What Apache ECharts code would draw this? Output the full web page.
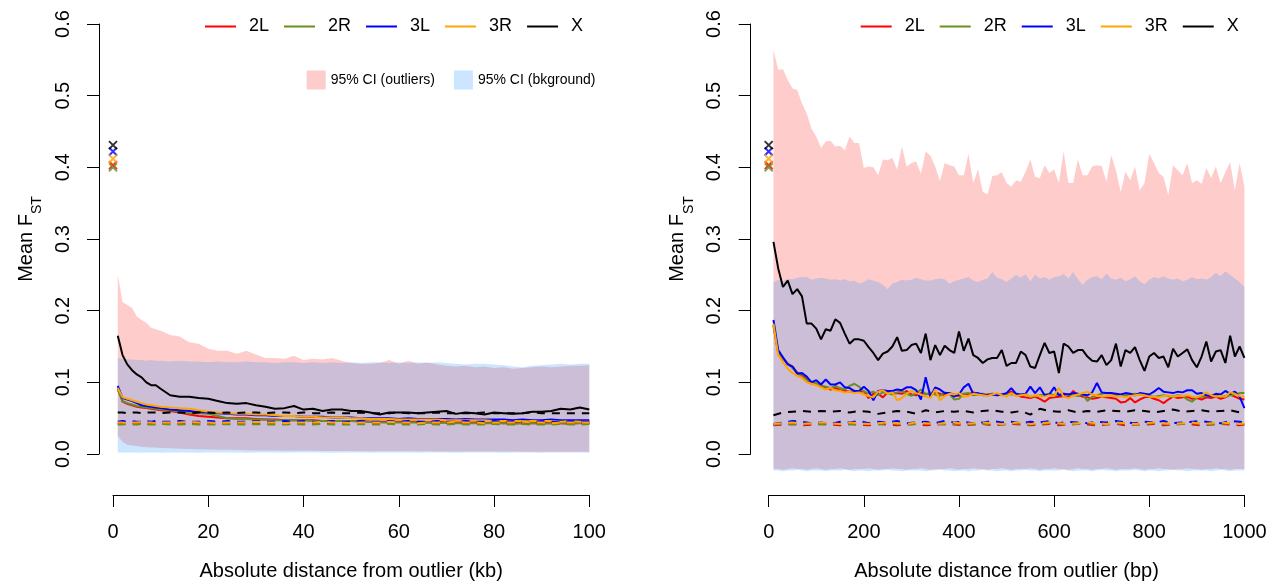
<!DOCTYPE html>
<html><head><meta charset="utf-8">
<script src="https://cdn.jsdelivr.net/npm/echarts@6/dist/echarts.min.js"></script>
<style>html,body{margin:0;padding:0;background:#fff}#c{width:1271px;height:581px}</style>
</head><body><div id="c"></div>
<script>
// ---------------- DATA ----------------
const chromosomes = ['2L','2R','3L','3R','X'];
const outlierFst = [0.403, 0.400, 0.422, 0.412, 0.431];   // crosses at distance 0 (same in both panels)

// Left panel: distance in kb
const kbX = [1,2,3,4,5,6,7,8,9,10,12,14,16,18,20,22,24,26,28,30,32,34,36,38,40,42,44,46,48,50,
  52,54,56,58,60,62,64,66,68,70,72,74,76,78,80,82,84,86,88,90,92,94,96,98,100];
const kbOutUpper = [0.250,0.212,0.208,0.204,0.192,0.187,0.183,0.176,0.174,0.172,
  0.166,0.164,0.156,0.154,0.147,0.144,0.144,0.140,0.144,0.139,
  0.134,0.134,0.133,0.137,0.131,0.133,0.132,0.134,0.130,0.127,
  0.126,0.126,0.127,0.131,0.126,0.130,0.126,0.128,0.125,0.123,
  0.122,0.123,0.121,0.122,0.120,0.121,0.119,0.120,0.121,0.122,
  0.121,0.122,0.123,0.123,0.124];
const kbOutLower = [0.025,0.017,0.013,0.012,0.011,0.010,0.0095,0.009,0.009,0.0085,
  0.008,0.0075,0.007,0.0065,0.0062,0.006,0.0058,0.0055,0.0053,0.005,
  0.005,0.0048,0.0046,0.0045,0.0045,0.0044,0.0043,0.0042,0.0042,0.0041,
  0.004,0.004,0.0039,0.0039,0.0038,0.0038,0.0037,0.0037,0.0036,0.0036,
  0.0036,0.0035,0.0035,0.0035,0.0034,0.0034,0.0034,0.0033,0.0033,0.0033,
  0.0033,0.0032,0.0032,0.0032,0.0032];
const kbBgUpper = [0.134,0.133,0.132,0.132,0.131,0.131,0.130,0.131,0.130,0.130,
  0.129,0.130,0.129,0.129,0.128,0.129,0.128,0.128,0.129,0.128,
  0.128,0.127,0.128,0.128,0.127,0.128,0.127,0.128,0.127,0.128,
  0.127,0.128,0.128,0.127,0.128,0.127,0.128,0.127,0.128,0.127,
  0.126,0.125,0.126,0.126,0.125,0.124,0.122,0.121,0.123,0.124,
  0.125,0.126,0.125,0.126,0.126];
const kbBgLower = [0.002,0.002,0.0022,0.0021,0.002,0.0019,0.002,0.0021,0.002,0.0019,
  0.002,0.0021,0.002,0.0019,0.002,0.0021,0.002,0.002,0.0019,0.002,
  0.0021,0.002,0.0019,0.002,0.0021,0.002,0.002,0.0019,0.002,0.0021,
  0.002,0.0019,0.002,0.0021,0.002,0.002,0.0019,0.002,0.0021,0.002,
  0.0019,0.002,0.0021,0.002,0.002,0.0019,0.002,0.0021,0.002,0.0019,
  0.002,0.0021,0.002,0.002,0.0019];
const kbSolid2L = [0.092,0.073,0.070,0.068,0.066,0.065,0.064,0.063,0.062,0.061,
  0.060,0.058,0.055,0.053,0.052,0.051,0.050,0.050,0.050,0.049,
  0.048,0.048,0.047,0.047,0.047,0.047,0.046,0.046,0.046,0.046,
  0.046,0.045,0.045,0.045,0.045,0.045,0.045,0.044,0.045,0.044,
  0.044,0.044,0.044,0.043,0.044,0.043,0.044,0.043,0.043,0.044,
  0.043,0.043,0.043,0.044,0.043];
const kbSolid2R = [0.090,0.074,0.071,0.069,0.067,0.066,0.065,0.064,0.063,0.062,
  0.061,0.059,0.057,0.057,0.056,0.053,0.050,0.049,0.049,0.048,
  0.048,0.047,0.047,0.047,0.047,0.046,0.046,0.046,0.046,0.046,
  0.045,0.045,0.044,0.044,0.044,0.044,0.044,0.044,0.043,0.044,
  0.043,0.043,0.043,0.043,0.043,0.043,0.042,0.043,0.043,0.042,
  0.043,0.043,0.042,0.043,0.043];
const kbSolid3L = [0.095,0.078,0.076,0.074,0.071,0.068,0.067,0.066,0.065,0.064,
  0.062,0.061,0.060,0.059,0.058,0.057,0.056,0.055,0.055,0.054,
  0.054,0.053,0.053,0.053,0.052,0.052,0.052,0.051,0.051,0.051,
  0.050,0.050,0.050,0.050,0.049,0.050,0.049,0.049,0.049,0.049,
  0.048,0.049,0.048,0.048,0.048,0.048,0.047,0.048,0.047,0.047,
  0.048,0.047,0.047,0.047,0.047];
const kbSolid3R = [0.092,0.079,0.077,0.075,0.073,0.071,0.069,0.068,0.067,0.066,
  0.065,0.064,0.063,0.061,0.059,0.058,0.057,0.056,0.056,0.055,
  0.055,0.054,0.053,0.053,0.052,0.052,0.051,0.051,0.051,0.050,
  0.050,0.049,0.049,0.049,0.048,0.048,0.048,0.048,0.048,0.047,
  0.047,0.047,0.047,0.047,0.046,0.046,0.046,0.046,0.046,0.046,
  0.046,0.045,0.046,0.045,0.045];
const kbSolidX = [0.165,0.138,0.125,0.117,0.111,0.107,0.100,0.096,0.096,0.091,
  0.082,0.080,0.080,0.078,0.077,0.074,0.071,0.070,0.071,0.068,
  0.066,0.063,0.064,0.067,0.062,0.063,0.060,0.062,0.062,0.060,
  0.060,0.058,0.055,0.058,0.058,0.058,0.057,0.058,0.059,0.060,
  0.056,0.058,0.057,0.055,0.058,0.057,0.056,0.057,0.059,0.059,
  0.060,0.063,0.062,0.065,0.062];
const kbDash2L = [0.042,0.043,0.042,0.043,0.042,0.043,0.042,0.042,0.043,0.042,
  0.043,0.042,0.042,0.043,0.042,0.043,0.042,0.042,0.043,0.042,
  0.042,0.043,0.042,0.042,0.043,0.042,0.042,0.043,0.042,0.042,
  0.043,0.042,0.042,0.043,0.042,0.042,0.043,0.042,0.042,0.043,
  0.042,0.042,0.043,0.042,0.042,0.043,0.042,0.042,0.043,0.042,
  0.042,0.043,0.042,0.042,0.043];
const kbDash2R = [0.041,0.041,0.042,0.041,0.041,0.042,0.041,0.041,0.041,0.042,
  0.041,0.041,0.042,0.041,0.041,0.041,0.042,0.041,0.041,0.042,
  0.041,0.041,0.041,0.042,0.041,0.041,0.042,0.041,0.041,0.041,
  0.042,0.041,0.041,0.042,0.041,0.041,0.041,0.042,0.041,0.041,
  0.042,0.041,0.041,0.041,0.042,0.041,0.041,0.042,0.041,0.041,
  0.041,0.042,0.041,0.041,0.042];
const kbDash3L = [0.045,0.046,0.045,0.046,0.045,0.045,0.046,0.045,0.046,0.045,
  0.045,0.046,0.045,0.045,0.046,0.045,0.046,0.045,0.045,0.046,
  0.045,0.045,0.046,0.045,0.046,0.045,0.045,0.046,0.045,0.045,
  0.046,0.045,0.045,0.046,0.045,0.046,0.045,0.045,0.046,0.045,
  0.045,0.046,0.045,0.045,0.046,0.045,0.046,0.045,0.045,0.046,
  0.045,0.045,0.046,0.045,0.045];
const kbDash3R = [0.044,0.044,0.043,0.044,0.044,0.045,0.044,0.044,0.043,0.044,
  0.044,0.044,0.045,0.044,0.044,0.043,0.044,0.044,0.044,0.045,
  0.044,0.044,0.043,0.044,0.044,0.044,0.045,0.044,0.044,0.043,
  0.044,0.044,0.044,0.045,0.044,0.044,0.043,0.044,0.044,0.044,
  0.045,0.044,0.044,0.043,0.044,0.044,0.044,0.045,0.044,0.044,
  0.043,0.044,0.044,0.044,0.044];
const kbDashX = [0.058,0.058,0.057,0.058,0.058,0.057,0.058,0.058,0.058,0.057,
  0.058,0.058,0.057,0.058,0.058,0.057,0.058,0.057,0.058,0.058,
  0.057,0.058,0.058,0.057,0.058,0.057,0.057,0.058,0.057,0.057,
  0.058,0.057,0.057,0.057,0.058,0.057,0.057,0.057,0.058,0.057,
  0.057,0.057,0.057,0.058,0.057,0.057,0.057,0.057,0.058,0.057,
  0.057,0.057,0.057,0.057,0.057];

// Right panel: distance in bp
const bpX = [10,20,30,40,50,60,70,80,90,100,110,120,130,140,150,160,170,180,190,200,
  210,220,230,240,250,260,270,280,290,300,310,320,330,340,350,360,370,380,390,400,
  410,420,430,440,450,460,470,480,490,500,510,520,530,540,550,560,570,580,590,600,
  610,620,630,640,650,660,670,680,690,700,710,720,730,740,750,760,770,780,790,800,
  810,820,830,840,850,860,870,880,890,900,910,920,930,940,950,960,970,980,990,1000];
const bpOutUpper = [0.564,0.536,0.537,0.522,0.510,0.508,0.489,0.475,0.454,0.443,
  0.427,0.436,0.437,0.429,0.430,0.424,0.443,0.434,0.434,0.399,
  0.401,0.400,0.389,0.411,0.410,0.413,0.397,0.429,0.401,0.406,
  0.408,0.391,0.422,0.416,0.401,0.381,0.406,0.403,0.401,0.389,
  0.389,0.419,0.378,0.397,0.366,0.362,0.388,0.389,0.393,0.378,
  0.373,0.382,0.380,0.394,0.411,0.387,0.385,0.403,0.392,0.397,
  0.378,0.422,0.378,0.378,0.411,0.389,0.389,0.401,0.403,0.402,
  0.380,0.417,0.396,0.366,0.394,0.382,0.401,0.368,0.378,0.419,
  0.406,0.392,0.387,0.361,0.403,0.396,0.389,0.406,0.378,0.382,
  0.377,0.399,0.385,0.401,0.378,0.393,0.407,0.368,0.406,0.373];
const bpOutLower = [-0.021,-0.021,-0.022,-0.021,-0.020,-0.021,-0.021,-0.022,-0.021,-0.020,
  -0.021,-0.022,-0.021,-0.021,-0.020,-0.021,-0.022,-0.021,-0.021,-0.021,
  -0.020,-0.021,-0.022,-0.021,-0.021,-0.020,-0.021,-0.021,-0.022,-0.021,
  -0.021,-0.020,-0.021,-0.022,-0.021,-0.021,-0.021,-0.020,-0.021,-0.022,
  -0.021,-0.021,-0.020,-0.021,-0.021,-0.022,-0.021,-0.021,-0.020,-0.021,
  -0.022,-0.021,-0.021,-0.021,-0.020,-0.021,-0.022,-0.021,-0.021,-0.020,
  -0.021,-0.021,-0.022,-0.021,-0.020,-0.021,-0.021,-0.022,-0.021,-0.021,
  -0.020,-0.021,-0.022,-0.021,-0.021,-0.021,-0.020,-0.021,-0.022,-0.021,
  -0.021,-0.020,-0.021,-0.021,-0.022,-0.021,-0.021,-0.020,-0.021,-0.021,
  -0.022,-0.021,-0.021,-0.020,-0.021,-0.021,-0.022,-0.021,-0.021,-0.021];
const bpBgUpper = [0.240,0.243,0.241,0.245,0.244,0.246,0.247,0.247,0.243,0.245,
  0.246,0.245,0.243,0.244,0.242,0.244,0.241,0.242,0.238,0.240,
  0.244,0.242,0.240,0.236,0.230,0.238,0.240,0.243,0.242,0.243,
  0.246,0.244,0.242,0.242,0.244,0.245,0.244,0.238,0.241,0.243,
  0.245,0.247,0.242,0.240,0.243,0.245,0.254,0.246,0.244,0.240,
  0.245,0.250,0.246,0.251,0.241,0.250,0.245,0.247,0.243,0.247,
  0.248,0.251,0.245,0.254,0.244,0.236,0.243,0.247,0.248,0.244,
  0.252,0.245,0.243,0.246,0.241,0.244,0.248,0.241,0.237,0.243,
  0.247,0.245,0.248,0.245,0.243,0.245,0.241,0.243,0.247,0.244,
  0.245,0.243,0.247,0.253,0.248,0.255,0.250,0.245,0.240,0.233];
const bpBgLower = [-0.023,-0.023,-0.024,-0.023,-0.023,-0.022,-0.023,-0.024,-0.023,-0.023,
  -0.023,-0.024,-0.023,-0.023,-0.023,-0.022,-0.023,-0.024,-0.023,-0.023,
  -0.024,-0.023,-0.023,-0.023,-0.022,-0.023,-0.023,-0.024,-0.023,-0.023,
  -0.023,-0.023,-0.024,-0.023,-0.023,-0.022,-0.023,-0.023,-0.024,-0.023,
  -0.023,-0.024,-0.023,-0.023,-0.022,-0.023,-0.023,-0.024,-0.023,-0.023,
  -0.024,-0.023,-0.023,-0.022,-0.023,-0.023,-0.024,-0.023,-0.023,-0.023,
  -0.023,-0.022,-0.023,-0.024,-0.023,-0.023,-0.023,-0.024,-0.023,-0.022,
  -0.023,-0.023,-0.024,-0.023,-0.023,-0.023,-0.022,-0.023,-0.024,-0.023,
  -0.023,-0.024,-0.023,-0.023,-0.022,-0.023,-0.023,-0.024,-0.023,-0.023,
  -0.023,-0.023,-0.024,-0.023,-0.022,-0.023,-0.024,-0.023,-0.023,-0.023];
const bpSolid2L = [0.180,0.142,0.133,0.126,0.122,0.114,0.110,0.104,0.098,0.097,
  0.094,0.093,0.090,0.092,0.089,0.088,0.087,0.088,0.086,0.088,
  0.078,0.084,0.084,0.079,0.086,0.084,0.085,0.084,0.088,0.083,
  0.082,0.085,0.084,0.083,0.086,0.084,0.082,0.085,0.083,0.081,
  0.084,0.083,0.086,0.084,0.082,0.083,0.084,0.082,0.083,0.084,
  0.087,0.083,0.080,0.079,0.078,0.080,0.077,0.073,0.078,0.079,
  0.080,0.081,0.079,0.088,0.082,0.080,0.079,0.077,0.078,0.080,
  0.079,0.078,0.077,0.072,0.073,0.078,0.072,0.076,0.079,0.080,
  0.077,0.075,0.071,0.076,0.080,0.078,0.079,0.080,0.077,0.078,
  0.076,0.079,0.078,0.080,0.077,0.079,0.083,0.080,0.077,0.076];
const bpSolid2R = [0.178,0.141,0.134,0.126,0.120,0.113,0.108,0.103,0.101,0.099,
  0.096,0.094,0.092,0.095,0.092,0.090,0.095,0.098,0.094,0.087,
  0.085,0.087,0.082,0.086,0.085,0.083,0.086,0.088,0.084,0.081,
  0.085,0.090,0.083,0.086,0.083,0.081,0.086,0.084,0.076,0.077,
  0.084,0.085,0.082,0.083,0.084,0.082,0.084,0.083,0.082,0.084,
  0.083,0.084,0.082,0.083,0.080,0.081,0.082,0.083,0.084,0.082,
  0.083,0.084,0.083,0.082,0.081,0.083,0.074,0.080,0.082,0.084,
  0.085,0.084,0.083,0.081,0.082,0.083,0.084,0.083,0.082,0.081,
  0.080,0.081,0.082,0.081,0.080,0.082,0.081,0.076,0.073,0.079,
  0.080,0.081,0.081,0.082,0.080,0.081,0.082,0.083,0.085,0.085];
const bpSolid3L = [0.187,0.145,0.135,0.125,0.122,0.112,0.113,0.108,0.100,0.103,
  0.097,0.104,0.097,0.097,0.100,0.093,0.092,0.088,0.088,0.094,
  0.088,0.075,0.088,0.089,0.088,0.088,0.090,0.089,0.093,0.093,
  0.089,0.076,0.107,0.080,0.093,0.090,0.085,0.085,0.080,0.083,
  0.093,0.098,0.084,0.085,0.083,0.082,0.083,0.082,0.083,0.085,
  0.092,0.084,0.083,0.084,0.094,0.085,0.093,0.082,0.083,0.093,
  0.082,0.084,0.083,0.085,0.084,0.083,0.082,0.086,0.099,0.086,
  0.085,0.085,0.084,0.083,0.085,0.084,0.082,0.085,0.084,0.083,
  0.087,0.092,0.087,0.086,0.085,0.087,0.086,0.089,0.089,0.084,
  0.085,0.082,0.081,0.084,0.083,0.088,0.084,0.087,0.080,0.064];
const bpSolid3R = [0.182,0.138,0.128,0.119,0.113,0.109,0.106,0.100,0.098,0.096,
  0.093,0.090,0.092,0.089,0.088,0.086,0.087,0.085,0.086,0.083,
  0.081,0.079,0.087,0.089,0.084,0.086,0.075,0.078,0.084,0.088,
  0.085,0.083,0.080,0.078,0.090,0.075,0.081,0.084,0.083,0.085,
  0.080,0.081,0.084,0.083,0.082,0.081,0.083,0.085,0.082,0.080,
  0.085,0.081,0.082,0.083,0.080,0.082,0.081,0.080,0.082,0.081,
  0.092,0.080,0.078,0.081,0.083,0.085,0.087,0.083,0.082,0.080,
  0.081,0.082,0.080,0.081,0.079,0.081,0.082,0.083,0.082,0.080,
  0.080,0.079,0.081,0.082,0.080,0.081,0.081,0.082,0.080,0.079,
  0.082,0.086,0.082,0.080,0.081,0.080,0.086,0.084,0.081,0.080];
const bpSolidX = [0.296,0.259,0.233,0.242,0.223,0.230,0.220,0.182,0.182,0.175,
  0.160,0.174,0.172,0.188,0.183,0.168,0.154,0.160,0.160,0.158,
  0.149,0.141,0.131,0.140,0.143,0.150,0.163,0.144,0.145,0.152,
  0.154,0.141,0.168,0.131,0.152,0.138,0.151,0.145,0.141,0.171,
  0.144,0.161,0.138,0.134,0.127,0.132,0.134,0.134,0.145,0.123,
  0.127,0.127,0.143,0.138,0.122,0.120,0.138,0.155,0.141,0.143,
  0.113,0.154,0.150,0.141,0.145,0.145,0.136,0.130,0.129,0.138,
  0.124,0.131,0.154,0.122,0.145,0.141,0.149,0.131,0.116,0.136,
  0.141,0.134,0.136,0.121,0.147,0.136,0.141,0.146,0.131,0.121,
  0.136,0.157,0.129,0.143,0.145,0.127,0.165,0.136,0.150,0.134];
const bpDashXs = [10,30,50,70,90,110,130,150,170,190,210,230,250,270,290,310,330,350,370,390,
  410,430,450,470,490,510,530,550,570,590,610,630,650,670,690,710,730,750,770,790,
  810,830,850,870,890,910,930,950,970,990,1000];
const bpDashX = [0.054,0.058,0.059,0.060,0.059,0.060,0.059,0.060,0.058,0.060,
  0.059,0.056,0.058,0.060,0.059,0.056,0.061,0.058,0.060,0.059,
  0.060,0.058,0.060,0.061,0.059,0.058,0.060,0.055,0.063,0.060,
  0.059,0.061,0.058,0.060,0.059,0.061,0.060,0.059,0.061,0.060,
  0.058,0.060,0.062,0.059,0.060,0.061,0.059,0.060,0.061,0.058,0.057];
const bpDash3L = [0.042,0.044,0.046,0.045,0.043,0.044,0.042,0.045,0.044,0.046,
  0.043,0.045,0.044,0.046,0.043,0.044,0.045,0.043,0.046,0.044,
  0.045,0.043,0.044,0.046,0.044,0.045,0.043,0.045,0.044,0.046,
  0.043,0.045,0.044,0.043,0.045,0.044,0.046,0.044,0.043,0.045,
  0.044,0.046,0.043,0.044,0.045,0.046,0.044,0.043,0.046,0.045,0.044];
const bpDash2L = [0.040,0.041,0.042,0.040,0.041,0.042,0.041,0.040,0.042,0.041,
  0.040,0.042,0.041,0.040,0.041,0.042,0.040,0.041,0.042,0.041,
  0.040,0.041,0.042,0.040,0.041,0.042,0.041,0.040,0.041,0.042,
  0.040,0.041,0.042,0.041,0.040,0.041,0.042,0.040,0.041,0.041,
  0.042,0.040,0.041,0.042,0.041,0.040,0.041,0.042,0.041,0.040,0.041];
const bpDash2R = [0.041,0.042,0.041,0.043,0.042,0.041,0.042,0.043,0.041,0.042,
  0.042,0.041,0.043,0.042,0.041,0.042,0.043,0.042,0.041,0.042,
  0.043,0.041,0.042,0.042,0.041,0.043,0.042,0.041,0.042,0.043,
  0.042,0.041,0.042,0.043,0.041,0.042,0.042,0.043,0.041,0.042,
  0.043,0.042,0.041,0.042,0.043,0.042,0.041,0.042,0.043,0.042,0.041];
const bpDash3R = [0.042,0.043,0.044,0.042,0.043,0.044,0.043,0.042,0.044,0.043,
  0.042,0.043,0.044,0.043,0.042,0.044,0.043,0.042,0.043,0.044,
  0.042,0.043,0.044,0.043,0.042,0.043,0.044,0.042,0.043,0.044,
  0.043,0.042,0.043,0.044,0.043,0.042,0.044,0.043,0.042,0.043,
  0.044,0.043,0.042,0.043,0.044,0.042,0.043,0.044,0.043,0.042,0.043];

const kbTicks = [0, 20, 40, 60, 80, 100];
const bpTicks = [0, 200, 400, 600, 800, 1000];
const yTicks = [0.0, 0.1, 0.2, 0.3, 0.4, 0.5, 0.6];

// ---------------- STYLE ----------------
const FONT = '"Liberation Sans", Arial, Helvetica, sans-serif';
const COL = {'2L': '#FF0000', '2R': '#6B8E23', '3L': '#0000FF', '3R': '#FFA500', 'X': '#000000'};
const PINK = 'rgba(255,0,0,0.2)';
const BLUE = 'rgba(0,128,255,0.2)';
const OUT_NAME = '95% CI (outliers)', BG_NAME = '95% CI (bkground)';
const PANELS = [
  {left: 113, width: 476.3, yOffset: 14, title: 'Absolute distance from outlier (kb)', ticks: kbTicks},
  {left: 768.7, width: 475.7, yOffset: 18, title: 'Absolute distance from outlier (bp)', ticks: bpTicks}
];
const TOP = 24, H = 430;            // pixel span of 0.0–0.6
const DATA_MIN = -0.1;              // data grid extends below 0 (hidden axis)

const pts = (xs, ys) => xs.map((x, i) => [x, ys[i]]);

function lineS(name, xs, ys, ax, dashed) {
  return {type: 'line', name, xAxisIndex: ax, yAxisIndex: ax, data: pts(xs, ys),
    symbol: 'none', showSymbol: false, silent: true, animation: false,
    lineStyle: {color: COL[name], width: 2, type: dashed ? [8, 7] : 'solid'},
    itemStyle: {color: COL[name]}};
}
function band(name, xs, lo, hi, ax, color) {
  return {type: 'custom', name, xAxisIndex: ax, yAxisIndex: ax, silent: true, animation: false,
    itemStyle: {color},
    data: xs.map((x, i) => [x, lo[i], hi[i]]),
    encode: {x: 0, y: [1, 2]},
    renderItem: (params, api) => {
      if (params.dataIndex !== 0) return null;
      const upper = xs.map((x, i) => api.coord([x, hi[i]]));
      const lower = xs.map((x, i) => api.coord([x, lo[i]])).reverse();
      return {type: 'polygon', shape: {points: upper.concat(lower)}, style: {fill: color}, silent: true};
    }};
}
function crosses(ax) {
  return chromosomes.map((c, i) => ({type: 'scatter', name: c, xAxisIndex: ax, yAxisIndex: ax,
    data: [[0, outlierFst[i]]], clip: false, silent: true, animation: false,
    symbol: 'path://M0,0L10,10M10,0L0,10', symbolSize: 8, symbolKeepAspect: true,
    itemStyle: {color: COL[c], borderColor: COL[c], borderWidth: 2}}));
}

const kbSolid = {'2L': kbSolid2L, '2R': kbSolid2R, '3L': kbSolid3L, '3R': kbSolid3R, 'X': kbSolidX};
const kbDash = {'2L': kbDash2L, '2R': kbDash2R, '3L': kbDash3L, '3R': kbDash3R, 'X': kbDashX};
const bpSolid = {'2L': bpSolid2L, '2R': bpSolid2R, '3L': bpSolid3L, '3R': bpSolid3R, 'X': bpSolidX};
const bpDash = {'2L': bpDash2L, '2R': bpDash2R, '3L': bpDash3L, '3R': bpDash3R, 'X': bpDashX};

let series = [];
chromosomes.forEach(c => series.push(lineS(c, kbX, kbSolid[c], 0, false)));
chromosomes.forEach(c => series.push(lineS(c, bpX, bpSolid[c], 2, false)));
chromosomes.forEach(c => series.push(lineS(c, kbX, kbDash[c], 0, true)));
chromosomes.forEach(c => series.push(lineS(c, bpDashXs, bpDash[c], 2, true)));
series.push(band(OUT_NAME, kbX, kbOutLower, kbOutUpper, 0, PINK));
series.push(band(BG_NAME, kbX, kbBgLower, kbBgUpper, 0, BLUE));
series.push(band(OUT_NAME, bpX, bpOutLower, bpOutUpper, 2, PINK));
series.push(band(BG_NAME, bpX, bpBgLower, bpBgUpper, 2, BLUE));
series = series.concat(crosses(0), crosses(2));

const grids = [], xAxes = [], yAxes = [];
PANELS.forEach((p, k) => {
  const xmax = p.ticks[p.ticks.length - 1];
  grids.push({left: p.left, top: TOP, width: p.width, height: H * (0.6 - DATA_MIN) / 0.6,
    containLabel: false, outerBoundsMode: 'none'});
  xAxes.push({gridIndex: 2 * k, type: 'value', min: 0, max: xmax, show: false});
  yAxes.push({gridIndex: 2 * k, type: 'value', min: DATA_MIN, max: 0.6, show: false});
  grids.push({left: p.left, top: TOP, width: p.width, height: H,
    containLabel: false, outerBoundsMode: 'none'});
  xAxes.push({gridIndex: 2 * k + 1, type: 'value', min: 0, max: xmax, interval: p.ticks[1] - p.ticks[0],
    position: 'bottom', offset: 41, splitLine: {show: false},
    axisLine: {show: true, onZero: false, lineStyle: {color: '#000', width: 1}},
    axisTick: {show: true, length: 12, lineStyle: {color: '#000', width: 1}},
    axisLabel: {fontSize: 20, color: '#000', margin: 27, fontFamily: FONT, formatter: v => String(v)},
    name: p.title, nameLocation: 'middle', nameGap: 66,
    nameTextStyle: {fontSize: 20, color: '#000', fontFamily: FONT}});
  yAxes.push({gridIndex: 2 * k + 1, type: 'value', min: yTicks[0], max: yTicks[yTicks.length - 1], interval: 0.1,
    position: 'left', offset: p.yOffset, splitLine: {show: false},
    axisLine: {show: true, onZero: false, lineStyle: {color: '#000', width: 1}},
    axisTick: {show: true, length: 12, lineStyle: {color: '#000', width: 1}},
    axisLabel: {fontSize: 20, color: '#000', margin: 26, rotate: 90, fontFamily: FONT,
      formatter: v => v.toFixed(1)},
    name: '{a|Mean F}{b|ST}', nameLocation: 'middle', nameGap: 55, nameRotate: 90,
    nameTextStyle: {color: '#000', fontFamily: FONT, rich: {
      a: {fontSize: 20, lineHeight: 28, verticalAlign: 'top', color: '#000', fontFamily: FONT},
      b: {fontSize: 14, lineHeight: 14, verticalAlign: 'bottom', color: '#000', fontFamily: FONT}}}});
});

const chrLegend = left => ({left, top: 17.5, padding: 0, orient: 'horizontal', selectedMode: false,
  itemWidth: 31, itemHeight: 2, itemGap: 15,
  data: chromosomes.map(c => ({name: c, icon: 'rect', itemStyle: {color: COL[c], borderWidth: 0}})),
  textStyle: {fontSize: 18, color: '#000', fontFamily: FONT, padding: [0, 0, 0, 8], width: 24}});

const option = {
  animation: false,
  textStyle: {fontFamily: FONT},
  grid: grids, xAxis: xAxes, yAxis: yAxes,
  legend: [
    chrLegend(205), chrLegend(860.7),
    {left: 306.7, top: 70.5, padding: 0, selectedMode: false, itemWidth: 19, itemHeight: 19, itemGap: 19,
      data: [{name: OUT_NAME, icon: 'rect', itemStyle: {color: PINK, borderWidth: 0}},
             {name: BG_NAME, icon: 'rect', itemStyle: {color: BLUE, borderWidth: 0}}],
      textStyle: {fontSize: 14, color: '#000', fontFamily: FONT}}
  ],
  series
};
const chart = echarts.init(document.getElementById('c'), null, {renderer: 'canvas'});
chart.setOption(option);
</script></body></html>
